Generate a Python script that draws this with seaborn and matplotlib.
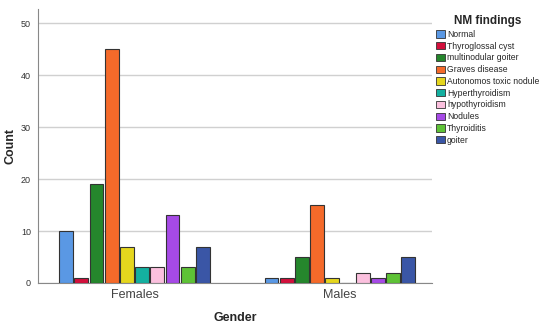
import pandas as pd
import numpy as np
import matplotlib.pyplot as plt
import seaborn as sns

# Data
genders = ["Females", "Males"]
findings = ["Normal", "Thyroglossal cyst", "multinodular goiter", "Graves disease",
            "Autonomos toxic nodule", "Hyperthyroidism", "hypothyroidism",
            "Nodules", "Thyroiditis", "goiter"]
females = [10, 1, 19, 45, 7, 3, 3, 13, 3, 7]
males = [1, 1, 5, 15, 1, 0, 2, 1, 2, 5]
colors = ["#5a98e4", "#d2103c", "#25862c", "#f46a2a", "#e5d61e", "#14b0a0",
          "#fbc0de", "#a64ae6", "#5ec236", "#3a56a6"]

rows = []
for f, v in zip(findings, females):
    rows.append({"Gender": "Females", "NM findings": f, "Count": v})
for f, v in zip(findings, males):
    rows.append({"Gender": "Males", "NM findings": f, "Count": v})
df = pd.DataFrame(rows)

sns.set_style("white")
plt.rcParams["font.family"] = ["Liberation Sans", "DejaVu Sans"]

fig = plt.figure(figsize=(5.5, 3.26), dpi=100)
ax = fig.add_axes([0.069, 0.132, 0.717, 0.84])

sns.barplot(data=df, x="Gender", y="Count", hue="NM findings", order=genders,
            hue_order=findings, palette=colors, saturation=1, width=0.74, gap=0.1,
            edgecolor="#333333", linewidth=0.8, ax=ax, zorder=3)

ax.set_ylim(0, 52.7)
ax.set_xlim(-0.47, 1.45)
ax.set_yticks([0, 10, 20, 30, 40, 50])
ax.yaxis.grid(True, color="#d0d0d0", linewidth=1, zorder=0)
ax.set_axisbelow(True)
for s in ["top", "right"]:
    ax.spines[s].set_visible(False)
for s in ["left", "bottom"]:
    ax.spines[s].set_color("#888888")
    ax.spines[s].set_linewidth(0.8)
ax.tick_params(axis="y", labelsize=6.5, length=0, pad=5, colors="#333333")
ax.tick_params(axis="x", labelsize=9, length=0, pad=4, colors="#444444")
ax.set_xlabel("Gender", fontsize=9, fontweight="bold", labelpad=8)
ax.set_ylabel("Count", fontsize=9, fontweight="bold", labelpad=3)

leg = ax.legend(title="NM findings", loc="upper left", bbox_to_anchor=(0.995, 1.0),
                frameon=False, fontsize=6.2, title_fontsize=8.5,
                handlelength=0.95, handleheight=0.95, handletextpad=0.3,
                labelspacing=0.32, borderaxespad=0.3)
leg.get_title().set_fontweight("bold")
for h in leg.legend_handles:
    h.set_edgecolor("#333333")
    h.set_linewidth(0.6)

plt.savefig("out.png", dpi=100)
